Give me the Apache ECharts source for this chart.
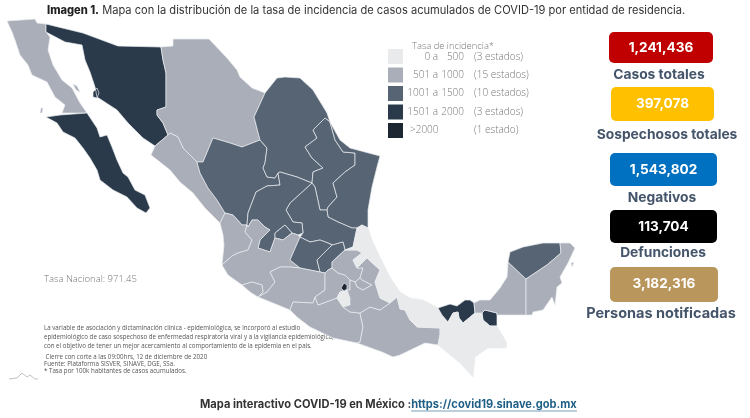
<!DOCTYPE html>
<html>
<head>
<meta charset="utf-8">
<style>
  html, body { margin: 0; background: #fff; }
  #main { width: 750px; height: 418px; }
</style>
<script src="https://cdn.jsdelivr.net/npm/echarts@6/dist/echarts.min.js"></script>
</head>
<body>
<div id="main"></div>
<script>
// tasa de incidencia por estado (valores estimados dentro de cada rango del mapa)
const stateNames = ['Baja California', 'Baja California Sur', 'Sonora', 'Chihuahua', 'Sinaloa', 'Durango', 'Coahuila', 'Nuevo León', 'Tamaulipas', 'San Luis Potosí', 'Zacatecas', 'Aguascalientes', 'Nayarit', 'Jalisco', 'Colima', 'Guanajuato', 'Querétaro', 'Michoacán', 'Guerrero', 'Oaxaca', 'México', 'Hidalgo', 'Tlaxcala', 'Morelos', 'Puebla', 'Veracruz', 'Tabasco', 'Chiapas', 'Campeche', 'Yucatán', 'Quintana Roo', 'Ciudad de México']
const stateRates = [920, 1640, 1680, 980, 860, 1180, 1410, 1380, 1070, 1110, 1240, 1330, 890, 810, 960, 1130, 1260, 690, 830, 780, 720, 760, 930, 470, 640, 440, 1790, 110, 840, 1020, 990, 2900]

const legendFrom = ['0 a', '501 a', '1001 a', '1501 a', '>2000']
const legendTo = ['500', '1000', '1500', '2000', '']
const legendCount = ['(3 estados)', '(15 estados)', '(10 estados)', '(3 estados)', '(1 estado)']
const legendColors = ['#e8eaec', '#a9aeb8', '#566474', '#2a3a4b', '#1c2733']

const boxValues = ['1,241,436', '397,078', '1,543,802', '113,704', '3,182,316']
const boxLabels = ['Casos totales', 'Sospechosos totales', 'Negativos', 'Defunciones', 'Personas notificadas']
const boxColors = ['#c00000', '#ffc000', '#0070c0', '#000000', '#b9965b']

const titleBold = 'Imagen 1.'
const titleText = ' Mapa con la distribución de la tasa de incidencia de casos acumulados de COVID-19 por entidad de residencia.'
const notes = [
  'La variable de asociación y dictaminación clínica - epidemiológica, se incorporó al estudio',
  'epidemiológico de caso sospechoso de enfermedad respiratoria viral y a la vigilancia epidemiológica,',
  'con el objetivo de tener un mejor acercamiento al comportamiento de la epidemia en el país.'
]
const sources = [
  ' Cierre con corte a las 09:00hrs, 12 de diciembre de 2020',
  'Fuente: Plataforma SISVER, SINAVE, DGE, SSa.',
  '* Tasa por 100k habitantes de casos acumulados.'
]

// contornos de los estados, en el orden de stateNames
const stateShapes = [
  ['7,21 35,19 37,23 46,24 46,32 50,37 48,50 53,65 62,80 72,88 80,103 87,113 62,113 65,105 55,97 47,82 32,75 28,65 20,55 15,40 12,32', '73,84 77,86 80,92 76,90', '41,108 43,108 42,113 40,113'],
  ['46,117 60,115 87,113 97,128 100,137 107,135 112,147 117,160 123,173 128,177 135,190 145,195 150,208 146,213 137,208 127,197 113,190 100,180 97,170 90,158 83,148 75,138 63,132 57,123'],
  ['46,24 83,33 118,46 161,47 163,60 166,73 166,107 157,110 157,115 163,123 168,135 155,146 143,138 128,123 117,110 97,97 95,87 90,72 85,60 82,45 65,42 46,32', '93,92 97,88 99,93 97,98 93,97'],
  ['161,47 173,46 173,39 209,39 227,58 237,70 240,77 252,88 265,93 254,117 260,140 242,147 230,143 213,138 208,150 203,162 197,162 183,148 178,137 170,133 168,135 163,123 157,115 157,110 166,107 166,73 163,60'],
  ['155,146 168,135 170,133 178,137 183,148 197,162 200,173 208,188 217,200 225,213 220,223 205,208 193,193 180,182 170,170 160,162 151,155'],
  ['213,138 230,143 242,147 260,140 267,148 265,163 263,168 267,177 275,178 278,173 280,185 267,186 256,192 253,200 248,213 247,225 242,225 233,215 225,213 217,200 208,188 200,173 197,162 203,162 208,150'],
  ['265,93 277,78 285,77 300,78 313,90 327,113 330,122 325,118 313,130 317,138 305,147 312,158 323,168 313,172 312,183 297,177 280,172 278,173 275,178 267,177 263,168 265,163 267,148 260,140 254,117'],
  ['325,118 330,122 335,140 343,152 355,153 355,165 345,172 333,183 337,197 328,207 327,210 320,210 315,187 312,183 313,172 323,168 312,158 305,147 317,138 313,130'],
  ['330,122 340,140 350,148 365,152 380,156 377,167 372,187 368,210 368,228 362,225 357,228 352,228 338,222 328,217 327,210 328,207 337,197 333,183 345,172 355,165 355,153 343,152 335,140'],
  ['312,183 315,187 320,210 327,210 328,217 338,222 352,228 357,228 353,247 345,250 343,242 333,245 328,243 320,240 310,242 300,237 303,233 302,223 293,222 286,210 290,203'],
  ['280,185 278,173 280,172 297,177 312,183 290,203 286,210 293,222 302,223 303,233 298,235 292,233 285,225 275,233 275,238 270,252 258,248 260,240 270,230 265,227 258,220 252,220 248,227 247,225 248,213 253,200 256,192 267,186'],
  ['285,225 292,233 283,240 275,238 275,233'],
  ['225,213 233,215 242,225 247,225 245,232 252,240 248,250 238,253 232,256 222,265 224,245 223,235 220,223'],
  ['222,265 232,256 238,253 248,250 252,240 245,232 247,225 248,227 252,220 258,220 265,227 270,230 260,240 258,248 270,252 275,238 283,240 292,233 298,235 300,237 290,260 300,268 290,267 280,267 270,272 275,282 267,292 258,297 263,292 262,285 252,282 242,285 228,275'],
  ['242,285 252,282 262,285 263,292 258,297 250,292'],
  ['300,237 310,242 320,240 328,243 332,245 317,260 320,272 300,268 290,260'],
  ['332,245 333,245 343,242 345,250 332,262 332,268 328,270 325,273 320,272 317,260'],
  ['258,297 267,292 275,282 270,272 280,267 290,267 300,268 320,272 325,273 325,290 315,297 313,303 293,302 290,310 273,303'],
  ['290,310 293,302 313,303 315,297 318,305 337,298 343,307 350,312 360,313 363,327 360,342 357,343 333,338 310,327 297,317'],
  ['360,313 370,307 380,310 390,303 397,297 400,309 405,310 410,320 417,327 440,328 440,335 438,345 425,343 400,355 393,357 382,352 357,343 360,342 363,327'],
  ['325,273 328,270 332,268 338,273 345,275 350,280 350,290 347,290 340,292 337,298 318,305 315,297 325,290'],
  ['332,262 345,250 357,250 362,253 353,260 357,268 363,268 360,278 355,282 350,280 345,275 338,273 332,268'],
  ['355,282 360,278 362,280 372,285 363,290 357,287'],
  ['337,298 340,292 347,290 350,298 350,305 343,307'],
  ['357,268 367,258 380,270 375,282 380,298 390,303 380,310 370,307 360,313 350,312 343,307 350,305 350,298 347,290 350,290 350,280 355,282 357,287 363,290 372,285 362,280 360,278 363,268'],
  ['357,228 362,225 368,228 372,240 380,257 390,277 400,292 410,298 423,300 438,308 442,315 448,322 447,327 440,328 417,327 410,320 405,310 400,309 397,297 390,303 380,298 375,282 380,270 367,258 357,268 353,260 362,253 357,250 345,250 353,247'],
  ['438,308 450,304 457,306 465,300 470,300 474,303 475,313 463,323 459,318 458,312 453,313 448,322 442,315', '482,313 485,310 497,313 497,326 490,326 483,320'],
  ['447,327 448,322 453,313 458,312 459,318 463,323 475,313 482,313 483,320 490,326 497,326 507,343 506,348 488,348 475,357 473,377 460,363 438,345 440,335 440,328'],
  ['508,262 526,279 526,315 497,315 497,313 485,310 482,313 475,313 474,303 480,300 490,300 500,288 507,277'],
  ['508,262 510,252 523,247 543,243 560,243 561,253 547,265 526,279'],
  ['560,243 570,243 575,248 568,263 560,277 562,283 557,287 555,305 552,297 543,310 533,312 532,315 526,315 526,279 547,265 561,253', '571,263 574,262 572,267'],
  ['344,283 347,285 347,289 344,291 341,288']
]

const ring = s => {
  const pts = s.split(' ').map(p => p.split(',').map(Number))
  pts.push(pts[0])
  return pts
}

echarts.registerMap('mexico', {
  type: 'FeatureCollection',
  features: stateNames.map((name, i) => ({
    type: 'Feature',
    properties: { name: name },
    geometry: { type: 'MultiPolygon', coordinates: stateShapes[i].map(s => [ring(s)]) }
  }))
})

const chart = echarts.init(document.getElementById('main'))

const sans = '"Open Sans", sans-serif'
const head = 'Inter, sans-serif'
const text = (x, y, str, style) => ({
  type: 'text', x: x, y: y, silent: true,
  style: Object.assign({ text: str, fontFamily: sans, fontSize: 10, fill: '#777', verticalAlign: 'middle' }, style)
})

const rowsY = [57, 75, 93, 112, 130]
const legendGraphics = []
rowsY.forEach((y, i) => {
  if (i === 4) {
    legendGraphics.push(text(410, y, legendFrom[i], { fontWeight: 300 }))
  } else {
    legendGraphics.push(text(438, y, legendFrom[i], { align: 'right', fontWeight: 300 }))
  }
  legendGraphics.push(text(464, y, legendTo[i], { align: 'right', fontWeight: 300 }))
  legendGraphics.push(text(474, y, legendCount[i], { fontWeight: 300 }))
})

const boxRects = [[609, 32, 104, 31], [611, 87, 103, 34], [610, 153, 107, 33], [610, 210, 107, 33], [610, 267, 108, 35]]
const boxTextY = [48, 104, 170, 227, 284]
const labelY = [75, 135, 198, 253, 314]
const labelX = [659, 667, 662, 663, 661]
const labelSize = [13.8, 13.8, 13.8, 13.8, 14.5]
const boxGraphics = []
boxValues.forEach((v, i) => {
  const r = boxRects[i]
  boxGraphics.push({
    type: 'rect', silent: true,
    shape: { x: r[0], y: r[1], width: r[2], height: r[3], r: 5 },
    style: { fill: boxColors[i] }
  })
  boxGraphics.push(text(r[0] + r[2] / 2, boxTextY[i], v, { align: 'center', fontFamily: head, fontWeight: 700, fontSize: 13.6, fill: '#fff' }))
  boxGraphics.push(text(labelX[i], labelY[i], boxLabels[i], { align: 'center', fontFamily: head, fontWeight: 700, fontSize: labelSize[i], fill: '#44546a' }))
})

const option = {
  animation: false,
  backgroundColor: '#fff',
  visualMap: {
    type: 'piecewise',
    left: 388,
    top: 49,
    padding: 0,
    inverse: true,
    itemWidth: 15,
    itemHeight: 15,
    itemGap: 3.5,
    showLabel: false,
    selectedMode: false,
    itemSymbol: 'rect',
    pieces: [
      { min: 0, max: 500, color: legendColors[0] },
      { min: 501, max: 1000, color: legendColors[1] },
      { min: 1001, max: 1500, color: legendColors[2] },
      { min: 1501, max: 2000, color: legendColors[3] },
      { min: 2001, color: legendColors[4] }
    ]
  },
  series: [{
    type: 'map',
    map: 'mexico',
    projection: { project: p => p, unproject: p => p },
    boundingCoords: [[0, 0], [750, 418]],
    aspectScale: 1,
    left: 0,
    top: 0,
    width: 750,
    height: 418,
    roam: false,
    silent: true,
    label: { show: false },
    itemStyle: { borderColor: '#e9ecef', borderWidth: 0.7 },
    data: stateNames.map((name, i) => ({ name: name, value: stateRates[i] }))
  }],
  graphic: { elements: [
    {
      type: 'text', x: 47, y: 11, silent: true,
      style: {
        text: '{b|' + titleBold + '}{n|' + titleText + '}',
        verticalAlign: 'middle',
        rich: {
          b: { fontFamily: head, fontWeight: 800, fontSize: 11.1, fill: '#222' },
          n: { fontFamily: head, fontWeight: 400, fontSize: 11.1, fill: '#333' }
        }
      }
    },
    text(412, 46, 'Tasa de incidencia*', { fontWeight: 300, fontSize: 9.4 }),
    text(44, 279, 'Tasa Nacional: 971.45', { fontWeight: 300, fontSize: 9.5 }),
    ...legendGraphics,
    ...notes.map((n, i) => text(44, 328 + i * 9, n, { fontSize: 6.2, fill: '#555' })),
    ...sources.map((n, i) => text(44, 357 + i * 7.2, n, { fontSize: 6.2, fill: '#555' })),
    {
      type: 'polyline', silent: true,
      shape: { points: [[9, 379], [17, 378], [22, 373], [27, 377], [30, 375], [35, 379], [38, 379]] },
      style: { stroke: '#999', lineWidth: 0.6, fill: null }
    },
    ...boxGraphics,
    {
      type: 'text', x: 200, y: 405, silent: true,
      style: {
        text: '{a|Mapa interactivo COVID-19 en México :}{l|https://covid19.sinave.gob.mx}',
        verticalAlign: 'middle',
        rich: {
          a: { fontFamily: head, fontWeight: 700, fontSize: 11.1, fill: '#333' },
          l: { fontFamily: head, fontWeight: 700, fontSize: 11.1, fill: '#1f5f86' }
        }
      }
    },
    {
      type: 'line', silent: true,
      shape: { x1: 411, y1: 411, x2: 577, y2: 411 },
      style: { stroke: '#1f5f86', lineWidth: 0.6 }
    }
  ] }
}
chart.setOption(option)
</script>
</body>
</html>
